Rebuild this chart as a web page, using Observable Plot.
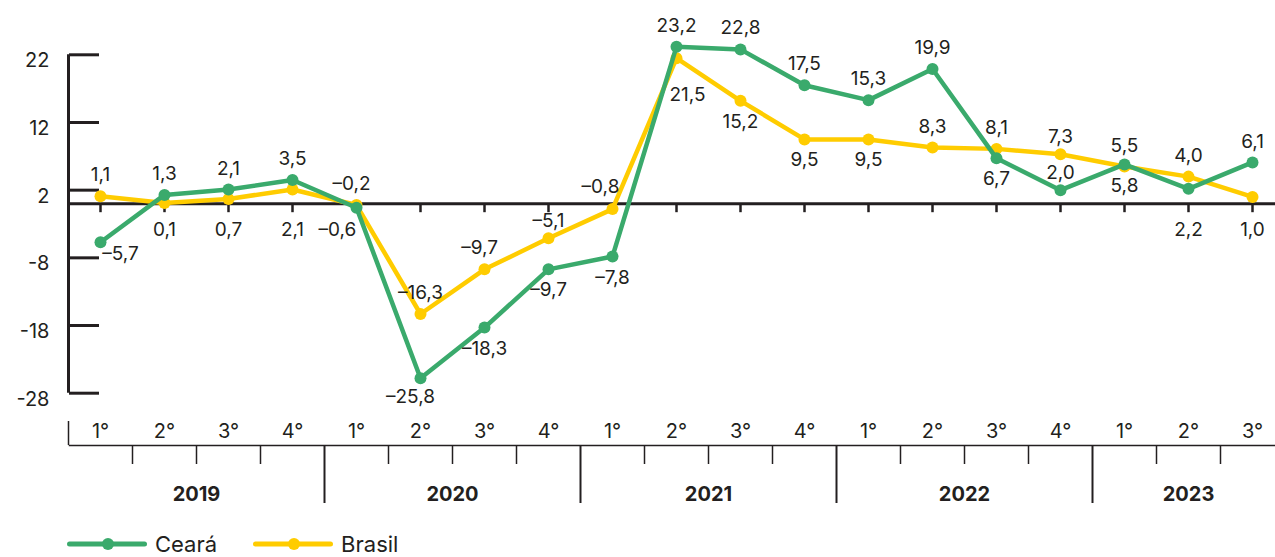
<!DOCTYPE html>
<html><head><meta charset="utf-8">
<script src="https://cdn.jsdelivr.net/npm/d3@7"></script>
<script src="https://cdn.jsdelivr.net/npm/@observablehq/plot@0.6"></script>
<style>
html,body{margin:0;padding:0;background:#fff;overflow:hidden;width:1275px;height:557px;}
#chart svg{display:block}
.legend{display:flex;align-items:center;height:24px;margin-top:2px;padding-left:67px;font-family:Inter, sans-serif;font-size:22px;color:#231F20;}
.item{display:flex;align-items:center;margin-right:36px}
.item svg{margin-right:8px;display:block}
</style></head><body>
<div id="chart"></div>
<div class="legend" id="legend"></div>
<script>
// ---- data ----
const quarterLabels = ["1°","2°","3°","4°","1°","2°","3°","4°","1°","2°","3°","4°","1°","2°","3°","4°","1°","2°","3°"];
const quarterYear  = ["2019","2019","2019","2019","2020","2020","2020","2020","2021","2021","2021","2021","2022","2022","2022","2022","2023","2023","2023"];
const years = ["2019","2020","2021","2022","2023"];
const seriesNames = ["Ceará","Brasil"];
const ceara  = [-5.7, 1.3, 2.1, 3.5, -0.6, -25.8, -18.3, -9.7, -7.8, 23.2, 22.8, 17.5, 15.3, 19.9, 6.7, 2.0, 5.8, 2.2, 6.1];
const brasil = [1.1, 0.1, 0.7, 2.1, -0.2, -16.3, -9.7, -5.1, -0.8, 21.5, 15.2, 9.5, 9.5, 8.3, 8.1, 7.3, 5.5, 4.0, 1.0];
const yTicks = [22, 12, 2, -8, -18, -28];

// ---- style ----
const colors = ["#3AAA6C", "#FFCC00"];
const ink = "#231F20";
const cearaLabelPos  = ["br","t","t","t","zl","bl","b","b","b","t","t","t","t","t","b","ts","b","z","t"];
const brasilLabelPos = ["t","z","z","z","tl","t","tl","ts","tll","bb","b","b","b","t","t","ts","t","t","z"];
const offsets = {
  t:[0,-21], ts:[0,-17], tl:[-5,-21], tll:[-12,-22],
  b:[0,21], bl:[-10,19], br:[20,12], bb:[11,37],
  z:[0,26], zl:[-19,26]
};

const idx = quarterLabels.map((_, i) => i);
const rows = [];
[ceara, brasil].forEach((vals, k) => vals.forEach((v, i) => rows.push({
  series: seriesNames[k], i, value: v, pos: (k === 0 ? cearaLabelPos : brasilLabelPos)[i]
})));
const yearCenters = years.map(y => ({year: y, x: d3.mean(idx.filter(i => quarterYear[i] === y))}));
const yearBounds = idx.slice(0, -1).filter(i => quarterYear[i] !== quarterYear[i + 1]).map(i => i + 0.5);
const minorTicks = idx.slice(0, -1).filter(i => quarterYear[i] === quarterYear[i + 1]).map(i => i + 0.5);

const fmtLabel = v => v.toFixed(1).replace(".", ",").replace("-", "–");
const fmtTick = d => String(d);

const labelMarks = Object.entries(offsets).map(([code, [dx, dy]]) =>
  Plot.text(rows.filter(d => d.pos === code), {
    x: "i", y: code.startsWith("z") ? () => 0 : "value",
    text: d => fmtLabel(d.value), dx, dy, lineAnchor: "middle",
    fontSize: 19, fill: ink
  })
);

const seriesMarks = [1, 0].flatMap(k => {
  const data = rows.filter(d => d.series === seriesNames[k]);
  return [
    Plot.line(data, {x: "i", y: "value", stroke: "series", strokeWidth: 4.5}),
    Plot.dot(data, {x: "i", y: "value", fill: "series", r: 6})
  ];
});

const chart = Plot.plot({
  width: 1275, height: 530,
  marginLeft: 69, marginRight: 0, marginTop: 10, marginBottom: 85,
  style: {fontFamily: "Inter, sans-serif", fontSize: "18px", color: ink, background: "#fff"},
  x: {type: "linear", domain: [-0.5, 18.5], range: [68, 1284], label: null},
  y: {type: "linear", domain: [-28, 22], range: [392.7, 54.3], label: null},
  color: {domain: seriesNames, range: colors},
  marks: [
    // y axis
    Plot.ruleX([-0.5], {y1: d3.min(yTicks), y2: d3.max(yTicks), strokeWidth: 3, stroke: ink}),
    Plot.axisY({anchor: "left", ticks: yTicks, tickSize: 30, dx: 30, tickFormat: () => "", strokeWidth: 3, label: null}),
    Plot.axisY({anchor: "left", ticks: yTicks, tickSize: 0, tickPadding: 20, dy: 6, tickFormat: fmtTick, fontSize: 20, fontVariant: "normal", label: null}),
    // zero line and its ticks
    Plot.ruleY([0], {strokeWidth: 3, stroke: ink}),
    Plot.ruleX(idx, {x: d => d, y1: 0, y2: 0, insetBottom: -9, strokeWidth: 2.5, stroke: ink}),
    // bottom category axis
    Plot.frame({anchor: "bottom", strokeWidth: 1.5, stroke: ink}),
    Plot.axisX({anchor: "bottom", ticks: [-0.5], tickSize: 24, dy: -24, tickFormat: () => "", strokeWidth: 1.5, label: null}),
    Plot.axisX({anchor: "bottom", ticks: minorTicks, tickSize: 19, tickFormat: () => "", strokeWidth: 1.5, label: null}),
    Plot.axisX({anchor: "bottom", ticks: yearBounds, tickSize: 58, tickFormat: () => "", strokeWidth: 2, label: null}),
    Plot.text(idx, {x: d => d, text: i => quarterLabels[i], frameAnchor: "bottom", lineAnchor: "bottom", dy: -8, fontSize: 20, fill: ink}),
    Plot.text(yearCenters, {x: "x", text: "year", frameAnchor: "bottom", lineAnchor: "middle", dy: 49, fontSize: 20, fontWeight: 700, fill: ink}),
    // series
    ...seriesMarks,
    ...labelMarks
  ]
});
document.getElementById("chart").append(chart);

// legend
const legend = d3.select("#legend");
seriesNames.forEach((name, k) => {
  const item = legend.append("div").attr("class", "item");
  const sw = item.append("svg").attr("width", 80).attr("height", 14);
  sw.append("line").attr("x1", 2.5).attr("x2", 77.5).attr("y1", 7).attr("y2", 7)
    .attr("stroke", colors[k]).attr("stroke-width", 5).attr("stroke-linecap", "round");
  sw.append("circle").attr("cx", 41).attr("cy", 7).attr("r", 6).attr("fill", colors[k]);
  item.append("span").text(name);
});
</script>
</body></html>
